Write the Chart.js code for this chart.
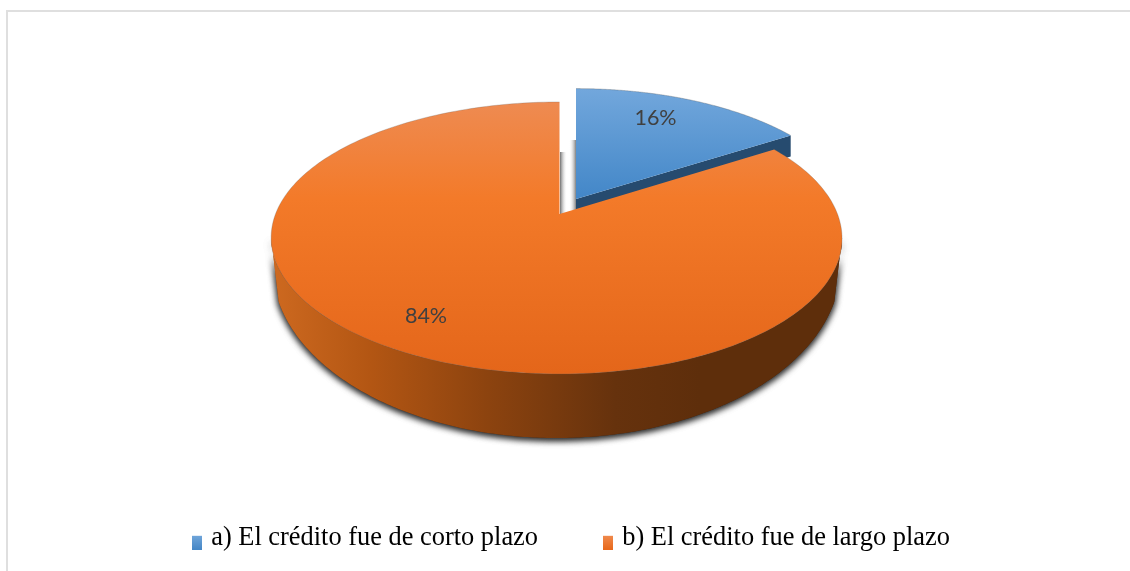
<!DOCTYPE html>
<html lang="es">
<head>
<meta charset="utf-8">
<style>html,body{margin:0;padding:0;background:#fff}canvas{display:block}</style>
<script src="https://cdn.jsdelivr.net/npm/chart.js@4"></script>
</head>
<body>
<canvas id="c" width="1130" height="571"></canvas>
<script>
const categories = ['a) El crédito fue de corto plazo', 'b) El crédito fue de largo plazo'];
const values = [16, 84];
const percentLabels = ['16%', '84%'];

// perspective projection of the pie disc
const PX = 559.5, PY = 214, AX = 281, AY = 131.8, K = -0.176, DX = -3;
function proj(a, o) {
  o = o || {};
  const s = o.s ?? 1, sx = o.sx ?? s, dx = o.dx ?? 0, dy = o.dy ?? 0;
  const u = Math.cos(a), v = Math.sin(a), w = 1 + K * v;
  return [PX + dx + sx * (AX * u / w + DX * u * u), PY + dy + s * AY * v / w];
}
// lower rim of the side wall
function lowRim(a) {
  return [556.5 + 284 * Math.cos(a), 266 + 172 * Math.sin(a)];
}
function arcPath(ctx, a0, a1, o, move, fn) {
  const n = 240;
  for (let i = 0; i <= n; i++) {
    const t = a0 + (a1 - a0) * i / n;
    const p = fn ? fn(t) : proj(t, o);
    if (i === 0 && move) ctx.moveTo(p[0], p[1]); else ctx.lineTo(p[0], p[1]);
  }
}
function vGrad(ctx, y0, y1, stops) {
  const g = ctx.createLinearGradient(0, y0, 0, y1);
  stops.forEach(s => g.addColorStop(s[0], s[1]));
  return g;
}
const BLUE = [[0, '#72a7dc'], [1, '#4387c8']];
const ORANGE = [[0, '#ee8b52'], [0.36, '#f37a29'], [1, '#e4661a']];
const deg = Math.PI / 180;

const pie3d = {
  id: 'pie3d',
  beforeDraw(chart) {
    const ctx = chart.ctx;
    ctx.save();
    ctx.fillStyle = '#fff';
    ctx.fillRect(0, 0, 1130, 571);
    ctx.fillStyle = '#dfdfdf';
    ctx.fillRect(6, 10, 1124, 2);
    ctx.fillRect(6, 10, 2, 561);
    ctx.restore();
  },
  beforeDatasetsDraw(chart) {
    const ctx = chart.ctx;
    const arcs = chart.getDatasetMeta(0).data;
    const blue = arcs[0], orange = arcs[1];
    const bl = { s: 0.985, sx: 1, dx: 16.5, dy: -15 };
    ctx.save();

    // notch shadows
    let g = ctx.createLinearGradient(560, 0, 567, 0);
    g.addColorStop(0, '#707070'); g.addColorStop(1, 'rgba(255,255,255,0)');
    ctx.fillStyle = g; ctx.fillRect(560, 152, 7, 62);
    g = ctx.createLinearGradient(569, 0, 576, 0);
    g.addColorStop(0, 'rgba(255,255,255,0)'); g.addColorStop(1, '#808080');
    ctx.fillStyle = g; ctx.fillRect(569, 140, 7, 70);

    // blue wall
    const apex = proj(0, { s: 0, dx: 16.5, dy: -15 });
    const tip = proj(blue.endAngle, bl);
    ctx.fillStyle = '#264b6f';
    ctx.beginPath();
    ctx.moveTo(apex[0], apex[1]);
    ctx.lineTo(tip[0], tip[1]);
    ctx.lineTo(tip[0], tip[1] + 21);
    ctx.lineTo(apex[0], apex[1] + 21);
    ctx.closePath();
    ctx.fill();

    // blue top
    ctx.fillStyle = vGrad(ctx, 89, 198, BLUE);
    ctx.beginPath();
    ctx.moveTo(apex[0], apex[1]);
    arcPath(ctx, blue.startAngle, blue.endAngle, bl, false);
    ctx.closePath();
    ctx.fill();
    ctx.strokeStyle = 'rgba(90,90,90,.45)';
    ctx.lineWidth = 0.7;
    ctx.beginPath();
    arcPath(ctx, blue.startAngle, blue.endAngle, bl, true);
    ctx.stroke();

    // orange side wall with soft shadow
    g = ctx.createLinearGradient(277, 0, 700, 0);
    g.addColorStop(0, '#cc681f');
    g.addColorStop(0.22, '#b35613');
    g.addColorStop(0.5, '#8c430f');
    g.addColorStop(0.8, '#66320d');
    g.addColorStop(1, '#5e2e0b');
    ctx.fillStyle = g;
    ctx.shadowColor = 'rgba(30,30,30,.85)';
    ctx.shadowBlur = 7;
    ctx.shadowOffsetX = 0;
    ctx.shadowOffsetY = 2;
    for (let i = 0; i < 2; i++) {
      ctx.beginPath();
      arcPath(ctx, 10 * deg, 170 * deg, null, true);
      arcPath(ctx, 168 * deg, 12 * deg, null, false, lowRim);
      ctx.closePath();
      ctx.fill();
    }
    ctx.shadowColor = 'transparent';
    ctx.shadowBlur = 0;
    ctx.shadowOffsetY = 0;

    // orange top
    const c = proj(0, { s: 0 });
    ctx.fillStyle = vGrad(ctx, 101, 373, ORANGE);
    ctx.beginPath();
    ctx.moveTo(c[0], c[1]);
    arcPath(ctx, orange.startAngle, orange.endAngle, null, false);
    ctx.closePath();
    ctx.fill();
    ctx.strokeStyle = 'rgba(90,90,90,.35)';
    ctx.lineWidth = 0.7;
    ctx.beginPath();
    arcPath(ctx, orange.startAngle, orange.endAngle, null, true);
    ctx.stroke();

    // value labels
    ctx.fillStyle = '#404040';
    ctx.font = '21.5px Lato';
    ctx.textAlign = 'center';
    ctx.textBaseline = 'middle';
    ctx.fillText(percentLabels[0], 655.5, 118);
    ctx.fillText(percentLabels[1], 426, 316);
    ctx.restore();
    return false;
  }
};

// legend marker: 10×14 box sitting in the lower part of a 24-tall image
function marker(stops) {
  const m = document.createElement('canvas');
  m.width = 10; m.height = 24;
  const x = m.getContext('2d');
  x.fillStyle = vGrad(x, 10, 24, stops);
  x.fillRect(0, 10, 10, 14);
  return m;
}

const ctx0 = document.getElementById('c').getContext('2d');
new Chart(ctx0, {
  type: 'pie',
  data: {
    labels: categories,
    datasets: [{ data: values, backgroundColor: ['#4f93d2', '#f37a29'], borderWidth: 0 }]
  },
  options: {
    responsive: false,
    animation: false,
    events: [],
    layout: { padding: { bottom: 10, left: 16 } },
    plugins: {
      tooltip: { enabled: false },
      legend: {
        position: 'bottom',
        labels: {
          font: { family: '"Liberation Serif"', size: 26.4 },
          color: '#111',
          usePointStyle: true,
          boxWidth: 2,
          boxHeight: 14,
          padding: 69,
          generateLabels() {
            return categories.map((t, i) => ({
              text: t,
              pointStyle: marker(i ? [[0, '#f08a4c'], [1, '#e8681a']] : [[0, '#6fa5da'], [1, '#4486c6']]),
              fillStyle: i ? '#f37a29' : '#4f93d2',
              lineWidth: 0,
              index: i,
              hidden: false
            }));
          }
        }
      }
    }
  },
  plugins: [pie3d]
});
</script>
</body>
</html>
